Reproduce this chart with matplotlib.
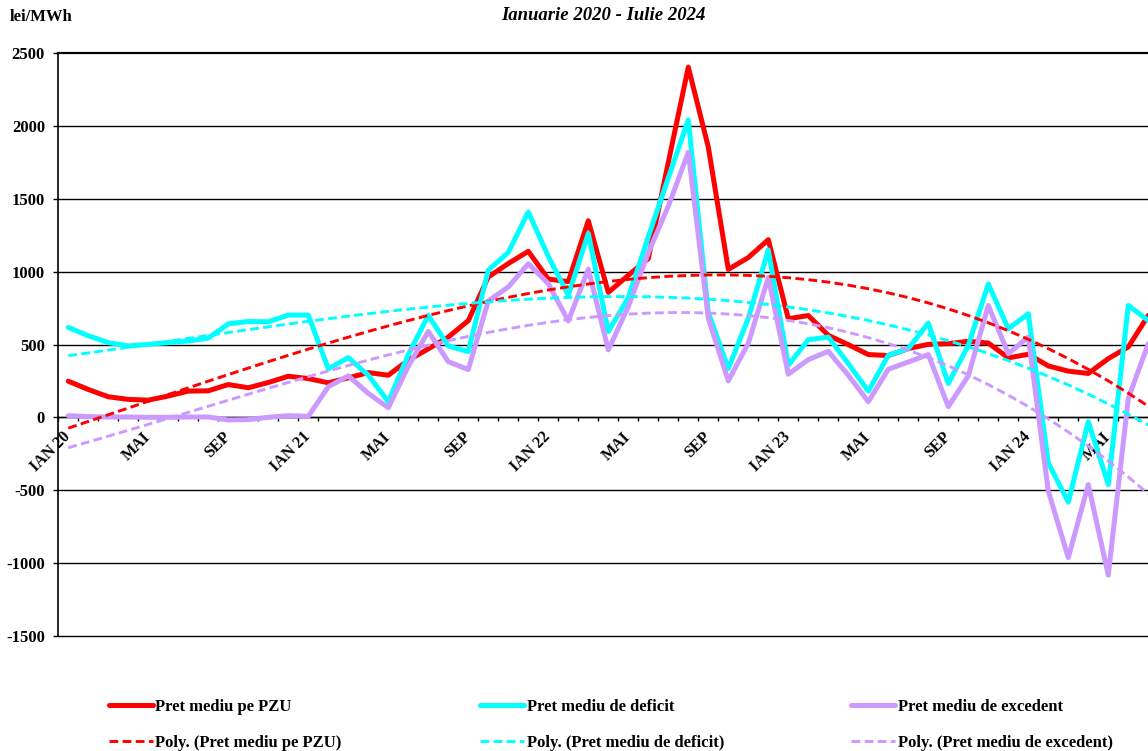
import numpy as np
import matplotlib
matplotlib.use("Agg")
import matplotlib.pyplot as plt

plt.rcParams["axes.unicode_minus"] = False

# ---------------- data ----------------
month_names = ["IAN", "FEB", "MAR", "APR", "MAI", "IUN", "IUL", "AUG", "SEP", "OCT", "NOI", "DEC"]
categories = [f"{m} {y}" for y in range(20, 25) for m in month_names][:55]  # Jan 2020 - Jul 2024

tick_positions = list(range(0, 55, 4))
tick_labels = ["IAN 20", "MAI", "SEP", "IAN 21", "MAI", "SEP", "IAN 22", "MAI", "SEP",
               "IAN 23", "MAI", "SEP", "IAN 24", "MAI"]

pzu = [248, 191, 141, 123, 118, 146, 180, 182, 225, 203, 239, 282,
       266, 237, 271, 307, 289, 392, 470, 551, 664, 964, 1056, 1140,
       949, 932, 1350, 858, 975, 1090, 1750, 2405, 1856, 1016, 1097, 1220,
       677, 699, 563, 499, 431, 424, 472, 501, 506, 522, 510, 408,
       433, 353, 317, 301, 403, 483, 700]

deficit = [617, 560, 513, 490, 501, 513, 524, 544, 642, 658, 656, 702,
           702, 333, 410, 289, 107, 430, 700, 490, 451, 1010, 1133, 1410,
           1105, 838, 1263, 589, 822, 1240, 1645, 2042, 720, 335, 680, 1150,
           358, 533, 551, 369, 180, 426, 472, 647, 232, 494, 916, 608,
           711, -314, -583, -30, -462, 768, 665]

excedent = [11, 5, 2, 2, 0, 0, 2, 2, -18, -16, 0, 11,
            7, 210, 285, 164, 66, 350, 590, 382, 328, 800, 895, 1055,
            918, 662, 1018, 463, 760, 1130, 1450, 1820, 680, 250, 509, 960,
            296, 396, 453, 289, 107, 330, 380, 431, 73, 285, 768, 437,
            551, -507, -964, -462, -1084, 130, 506]

series_names = ["Pret mediu pe PZU", "Pret mediu de deficit", "Pret mediu de excedent"]
series_values = [pzu, deficit, excedent]
series_colors = ["#FF0000", "#00FFFF", "#CC99FF"]
poly_order = 3

y_ticks = list(range(-1500, 2501, 500))

# ---------------- figure ----------------
W, H = 1148, 751
fig = plt.figure(figsize=(W / 100, H / 100), dpi=100)
left_px, right_px = 58.3, 1158.3
top_px, bottom_px = 53.3, 635.7
ax = fig.add_axes([left_px / W, 1 - bottom_px / H, (right_px - left_px) / W, (bottom_px - top_px) / H])

serif = "Liberation Serif"
x = np.arange(len(categories))

handles = []
for name, vals, col in zip(series_names, series_values, series_colors):
    (h,) = ax.plot(x, vals, color=col, lw=3.6, solid_joinstyle="round",
                   solid_capstyle="round", zorder=3, label=name)
    handles.append(h)

trend_handles = []
xf = x + 1
for name, vals, col in zip(series_names, series_values, series_colors):
    coef = np.polyfit(xf, np.asarray(vals, float), poly_order)
    yfit = np.polyval(coef, xf)
    (h,) = ax.plot(x, yfit, color=col, lw=2.1, dashes=(3.0, 1.5), zorder=4,
                   label=f"Poly. ({name})")
    trend_handles.append(h)

ax.set_xlim(-0.5, len(categories) - 0.5)
ax.set_ylim(-1500, 2500)

# y axis
ax.set_yticks(y_ticks)
ax.set_yticklabels([str(v) for v in y_ticks])
ax.yaxis.grid(True, color="black", lw=1.0)
ax.set_axisbelow(True)
for gl, v in zip(ax.get_ygridlines(), y_ticks):
    gl.set_clip_on(False)
    if v == 2500:
        gl.set_linewidth(1.6)
ax.tick_params(axis="y", direction="out", length=3.6, width=1.0, pad=6)
for lab in ax.get_yticklabels():
    lab.set_fontfamily(serif)
    lab.set_fontweight("bold")
    lab.set_fontsize(12)

# x axis at zero
ax.spines["bottom"].set_position(("data", 0))
ax.spines["bottom"].set_linewidth(1.0)
ax.spines["left"].set_linewidth(1.2)
ax.spines["top"].set_visible(False)
ax.spines["right"].set_visible(False)
ax.set_xticks(np.arange(-0.5, len(categories), 1.0))
ax.set_xticklabels([])
ax.tick_params(axis="x", which="major", direction="out", length=2.6, width=1.0)
ax.set_xticks(tick_positions, minor=True)
ax.set_xticklabels(tick_labels, minor=True)
ax.tick_params(axis="x", which="minor", length=0, pad=12.5)
for lab in ax.get_xticklabels(minor=True):
    lab.set_rotation(45)
    lab.set_ha("right")
    lab.set_va("center")
    lab.set_rotation_mode("anchor")
    lab.set_fontfamily(serif)
    lab.set_fontweight("bold")
    lab.set_fontsize(11.5)

# texts
fig.text(10 / W, 1 - 17 / H, "lei/MWh", family=serif, weight="bold", size=12,
         ha="left", va="center")
fig.text(603 / W, 1 - 15 / H, "Ianuarie 2020 - Iulie 2024", family=serif, weight="bold",
         style="italic", size=13.5, ha="center", va="center")

# legends (three columns)
col_x = [108.5, 480, 851]
for h1, h2, cx in zip(handles, trend_handles, col_x):
    fig.legend([h1, h2], [h1.get_label(), h2.get_label()], loc="center left",
               bbox_to_anchor=(cx / W, 1 - 725 / H), frameon=False,
               borderpad=0, borderaxespad=0, handlelength=2.65, handletextpad=0.15,
               labelspacing=1.2,
               prop=dict(family=serif, weight="bold", size=12))

fig.savefig("out.png", dpi=100)
